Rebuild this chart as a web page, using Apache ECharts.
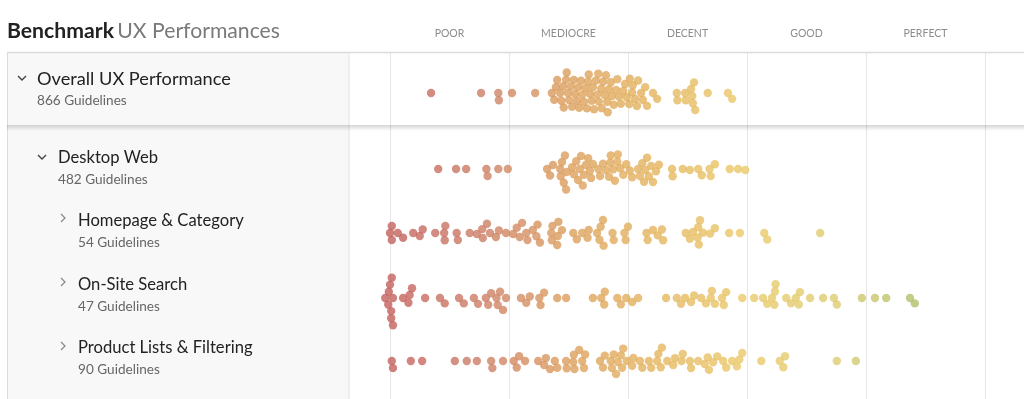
<!DOCTYPE html>
<html>
<head>
<meta charset="utf-8">
<script src="https://cdn.jsdelivr.net/npm/echarts@6/dist/echarts.min.js"></script>
<style>
  html, body { margin: 0; padding: 0; background: #fff; }
  #chart { width: 1024px; height: 399px; }
</style>
</head>
<body>
<div id="chart"></div>
<script>
// tiers along the top
const tierLabels = ['POOR', 'MEDIOCRE', 'DECENT', 'GOOD', 'PERFECT']

// row headers
const rowNames = ['Overall UX Performance', 'Desktop Web', 'Homepage & Category', 'On-Site Search', 'Product Lists & Filtering']
const rowCounts = ['866 Guidelines', '482 Guidelines', '54 Guidelines', '47 Guidelines', '90 Guidelines']

// scores (0 = start of POOR, 100 = end of PERFECT), one dot per guideline group
const overallScores = [
  6.9, 15.3, 18.2, 18.3, 20.5, 24.4,
  27.2, 27.6, 27.9, 28.1, 28.6, 28.8, 29.1, 29.2, 29.6, 29.7,
  29.9, 30.1, 30.4, 30.6, 30.9, 31.1, 31.4, 31.6, 31.8, 32.1, 32.3, 32.6, 32.8, 33.1,
  33.3, 33.4, 33.6, 33.9, 34.1, 34.3, 34.6, 34.8, 35.0, 35.1, 35.5, 35.6, 35.8, 36.1, 36.3, 36.5,
  36.6, 36.8, 37.1, 37.3, 37.6, 38.0, 38.2, 38.5, 38.8, 39.2, 39.5, 39.8,
  40.2, 40.3, 40.7, 40.8, 41.2, 41.5, 41.7, 42.2, 42.5, 42.9, 43.2, 44.2, 44.9,
  48.2, 48.3, 49.6, 49.7, 50.6, 50.8, 50.9, 51.1, 51.3, 53.4, 56.8, 57.5
]
const desktopScores = [
  8.1, 11.1, 12.8, 16.2, 16.4, 18.2, 19.8,
  26.4, 26.9, 27.4, 28.6, 28.7, 28.9, 29.2, 29.4, 29.6, 29.7,
  30.6, 30.9, 31.3, 31.6, 31.9, 32.1, 32.4, 32.6, 32.9, 33.3, 33.6, 33.8, 34.1,
  35.0, 35.3, 35.8, 36.3, 36.8, 37.0, 37.1, 37.5, 37.8, 38.2, 38.3, 38.7,
  39.2, 39.7, 40.3, 40.7, 41.7, 42.0, 42.4, 42.7, 42.9, 43.2, 43.5, 43.9, 44.2, 44.7, 45.2,
  47.4, 47.5, 49.2, 50.4, 51.8, 52.4, 53.7, 53.9, 54.6, 57.1, 58.5, 59.7
]
const homepageScores = [
  0.3, 0.3, 0.0, 1.3, 2.2, 3.9, 5.0, 5.5, 7.6, 9.1, 9.2, 9.3, 11.2, 11.4,
  13.4, 14.6, 15.5, 15.6, 16.8, 16.3, 17.8, 18.3, 19.5, 20.7, 21.3, 21.8, 22.2,
  22.9, 23.1, 24.0, 24.6, 24.8, 25.2, 27.1, 27.2, 27.3, 28.2, 28.3, 28.1, 28.9,
  30.8, 31.4, 32.3, 33.2, 33.4, 34.8, 35.2, 35.4, 35.9, 35.8, 37.4, 37.6,
  39.4, 39.6, 40.0, 43.1, 43.3, 44.2, 45.0, 45.7, 45.9,
  49.7, 50.4, 50.9, 51.7, 51.8, 51.9, 52.1, 52.6, 53.8, 54.6, 57.0, 58.8,
  62.9, 63.4, 72.3
]
const searchScores = [
  0.3, 0.2, 0.5, 0.0, -0.8, 0.5, -0.3, 0.2, -0.2,
  2.2, 3.1, 3.3, 3.7, 5.9, 8.4, 9.2, 11.6, 12.4, 14.1, 14.8, 16.1, 16.5, 17.0,
  17.9, 18.1, 18.5, 19.0, 19.5, 22.0, 22.9, 23.5, 25.1, 25.3, 25.9, 28.1, 29.6,
  34.1, 35.5, 36.1, 36.0, 38.2, 38.8, 39.7, 40.7, 41.7,
  46.4, 48.2, 48.9, 49.6, 50.6, 51.1, 52.3, 53.1, 54.1, 53.9, 54.6, 55.8, 56.1, 56.5,
  59.2, 61.2, 62.7, 64.2, 63.4, 64.6, 64.7, 64.8, 66.6, 67.4, 68.2, 68.7, 68.9,
  70.6, 72.8, 74.6, 75.1, 79.3, 81.5, 83.4, 87.4, 88.2
]
const productListScores = [
  0.3, 0.5, 3.5, 5.4, 10.9, 12.9, 14.6, 17.0, 17.2, 19.0, 20.8, 21.3, 21.7, 22.7,
  24.9, 25.9, 26.2, 26.9, 28.1, 27.7, 29.6, 29.7, 30.8, 30.9, 31.0, 31.8, 32.3, 32.6, 32.8,
  35.3, 35.8, 36.1, 37.3, 37.1, 37.6, 38.0, 38.3, 38.8, 39.0, 39.2, 39.8, 40.7, 40.9,
  42.0, 42.4, 43.5, 43.9, 44.9, 45.1, 45.5, 45.7, 46.6, 47.6, 47.9, 49.0, 49.2,
  50.4, 50.6, 51.8, 52.9, 53.6, 53.4, 54.3, 55.0, 56.0, 56.5, 57.5, 58.3, 58.7, 59.2,
  62.4, 65.5, 66.4, 66.1, 75.1, 78.3
]
const rowScores = [overallScores, desktopScores, homepageScores, searchScores, productListScores]

// layout
const GRID_TOP = 52
const GRID_LEFT = 271
const GRID_RIGHT = 39
const X_MIN = -20
const X_MAX = 100
const PX_PER_UNIT = (1024 - GRID_LEFT - GRID_RIGHT) / (X_MAX - X_MIN)
const ROW_CENTER = [41, 117, 181, 246, 309] // px below the top line
const DOT = 8.4
const GAP = 7.2

// simple beeswarm: put each dot as close to the row centre as it fits
function swarm(values, center) {
  const items = values.map(v => ({ v: v, px: (v - X_MIN) * PX_PER_UNIT }))
    .sort((a, b) => a.px - b.px)
  const placed = []
  const out = []
  items.forEach(p => {
    const cands = [0]
    placed.forEach(q => {
      const dx = p.px - q.px
      if (Math.abs(dx) < GAP) {
        const dy = Math.sqrt(GAP * GAP - dx * dx)
        cands.push(q.dy + dy, q.dy - dy)
      }
    })
    cands.sort((a, b) => Math.abs(a) - Math.abs(b))
    const best = cands.find(c => placed.every(q => {
      const dx = p.px - q.px
      return Math.abs(dx) >= GAP || dx * dx + (c - q.dy) * (c - q.dy) >= GAP * GAP - 0.01
    }))
    placed.push({ px: p.px, dy: best })
    out.push([p.v, center + best])
  })
  return out
}

function chevronDown(x, y) {
  return { type: 'polyline', shape: { points: [[x - 4, y - 2], [x, y + 2], [x + 4, y - 2]] },
    style: { stroke: '#444', lineWidth: 1.4, fill: null }, z: 20 }
}
function chevronRight(x, y) {
  return { type: 'polyline', shape: { points: [[x - 2, y - 4], [x + 2, y], [x - 2, y + 4]] },
    style: { stroke: '#888', lineWidth: 1.2, fill: null }, z: 20 }
}
function label(x, y, text, size, color) {
  return { type: 'text', x: x, y: y, z: 20,
    style: { text: text, fontFamily: 'Lato', fontSize: size, fill: color, textVerticalAlign: 'middle' } }
}

const rowLabelX = [37, 58, 78, 78, 78]
const rowTitleY = [79, 158, 221, 285, 348]
const rowSizes = [18.2, 16.6, 16.6, 16.6, 16.6]

const graphics = [
  // left panel
  { type: 'rect', shape: { x: 7, y: 52, width: 342, height: 347 }, style: { fill: '#f8f8f8' }, z: 1 },
  { type: 'line', shape: { x1: 349, y1: 52, x2: 349, y2: 399 }, style: { stroke: '#e2e2e2', lineWidth: 1 }, z: 3 },
  { type: 'line', shape: { x1: 7.5, y1: 52, x2: 7.5, y2: 399 }, style: { stroke: '#dcdcdc', lineWidth: 1 }, z: 3 },
  // top row frame
  { type: 'line', shape: { x1: 7, y1: 52.5, x2: 1024, y2: 52.5 }, style: { stroke: '#dcdcdc', lineWidth: 1.5 }, z: 3 },
  { type: 'rect', shape: { x: 7, y: 125, width: 1017, height: 6 }, z: 3,
    style: { fill: new echarts.graphic.LinearGradient(0, 0, 0, 1, [
      { offset: 0, color: 'rgba(0,0,0,0.16)' }, { offset: 1, color: 'rgba(0,0,0,0)' }]) } },
  // title
  { type: 'text', x: 7, y: 31, z: 20,
    style: { text: '{b|Benchmark} {r|UX Performances}', textVerticalAlign: 'middle',
      rich: {
        b: { fontFamily: 'Lato', fontSize: 21.2, fontWeight: 'bold', fill: '#222' },
        r: { fontFamily: 'Lato', fontSize: 21.2, fill: '#7a7a7a' }
      } } },
  chevronDown(22, 78),
  chevronDown(42, 157),
  chevronRight(63, 218),
  chevronRight(63, 282),
  chevronRight(63, 346)
]
rowNames.forEach((name, i) => {
  graphics.push(label(rowLabelX[i], rowTitleY[i], name, rowSizes[i], '#222'))
  graphics.push(label(rowLabelX[i], rowTitleY[i] + 22, rowCounts[i], 13.6, '#666'))
})

const chart = echarts.init(document.getElementById('chart'))
const option = {
  animation: false,
  grid: { left: GRID_LEFT, right: GRID_RIGHT, top: GRID_TOP, bottom: 0 },
  xAxis: [
    {
      type: 'value',
      min: X_MIN,
      max: X_MAX,
      interval: 20,
      axisLine: { show: false },
      axisTick: { show: false },
      axisLabel: { show: false },
      splitLine: { show: true, showMinLine: false, lineStyle: { color: '#e6e6e6', width: 1 } }
    },
    {
      type: 'category',
      position: 'top',
      data: [''].concat(tierLabels),
      boundaryGap: true,
      axisLine: { show: false },
      axisTick: { show: false },
      axisLabel: { color: '#8c8c8c', fontSize: 10.5, fontFamily: 'Lato', margin: 13 },
      splitLine: { show: false }
    }
  ],
  yAxis: { type: 'value', min: 0, max: 399 - GRID_TOP, inverse: true, show: false },
  visualMap: {
    show: false,
    type: 'continuous',
    dimension: 0,
    min: 0,
    max: 90,
    inRange: { color: ['#c25c58', '#ca7a62', '#db9c58', '#e4b45a', '#eac866', '#dccb6c', '#a6bd66'] }
  },
  graphic: graphics,
  series: rowScores.map((scores, i) => ({
    name: rowNames[i],
    type: 'scatter',
    xAxisIndex: 0,
    symbolSize: DOT,
    itemStyle: { opacity: 0.78 },
    data: swarm(scores, ROW_CENTER[i]),
    z: 5
  }))
}
chart.setOption(option)
</script>
</body>
</html>
